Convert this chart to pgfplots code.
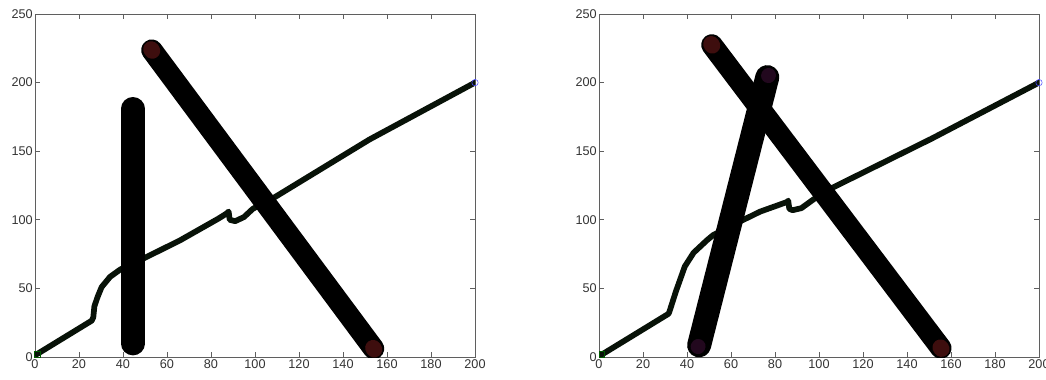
\documentclass[border=0pt]{standalone}
\usepackage{pgfplots}
\pgfplotsset{compat=1.18}
\usepackage{fontspec}
\setmainfont{Liberation Sans}
\definecolor{axgray}{RGB}{95,95,95}
\definecolor{linecol}{RGB}{8,18,8}
\definecolor{capred}{RGB}{62,14,14}
\definecolor{cappurple}{RGB}{34,8,30}
\pgfplotsset{
  mlab/.style={
    scale only axis, width=330pt, height=257.25pt,
    xmin=0, xmax=200, ymin=0, ymax=250,
    xtick={0,20,...,200}, ytick={0,50,...,250},
    tick align=inside, major tick length=4pt,
    axis line style={axgray, line width=0.6pt},
    tick style={axgray, line width=0.6pt},
    ticklabel style={font=\fontsize{9.5}{11}\selectfont, text=black!80, inner sep=1.5pt},
    /pgf/number format/assume math mode=true,
    anchor=south west,
  }
}
\begin{document}
\begin{tikzpicture}
\path[use as bounding box] (-26.25pt,-16.5pt) rectangle (758.25pt,267.75pt);
% left axis
\begin{axis}[mlab, at={(0pt,0pt)}]
\addplot[linecol, line width=4.3pt, line join=round, line cap=round] coordinates {
(0.8,2) (25.8,26.5) (26.5,29) (27,37) (28.5,44) (30.3,51) (34.1,58.4) (38.6,63.6)
(42,66.5) (49.2,71.7) (65.9,85) (83.3,100.8) (87,104.5) (88,106) (88.5,100)
(91,99) (95,102) (99,108) (109,116.5) (152,158.5) (200,200)};
\addplot[only marks, mark=square, mark size=2pt, green!35!black] coordinates {(1,2)};
\addplot[only marks, mark=o, mark size=2.4pt, blue!70!white] coordinates {(200,200)};
\addplot[black, line width=17.5pt, line cap=round] coordinates {(44.5,9.7) (44.5,181)};
\addplot[black, line width=16pt, line cap=round] coordinates {(53.1,223.7) (153.9,6.1)};
\addplot[capred, line width=12pt, line cap=round] coordinates {(52.8,224.3) (53.3,223.2)};
\addplot[capred, line width=12pt, line cap=round] coordinates {(154.2,5.5) (153.7,6.6)};
\end{axis}
% right axis
\begin{axis}[mlab, at={(423pt,0pt)}]
\addplot[linecol, line width=4.3pt, line join=round, line cap=round] coordinates {
(1.2,1.7) (31.6,31.5) (32,33) (33,38) (35,48) (37,57) (39,66) (43,76) (49,85)
(52,89) (57,93) (65,99.5) (73.3,106) (85.5,113) (86,114) (86.5,108) (88,107)
(92,108.5) (97.6,115) (105,122.5) (151,159) (200,200)};
\addplot[only marks, mark=square, mark size=2pt, green!35!black] coordinates {(1.2,2)};
\addplot[only marks, mark=o, mark size=2.4pt, blue!70!white] coordinates {(200,200)};
\addplot[black, line width=18pt, line cap=round] coordinates {(45.5,8.5) (76.5,204)};
\addplot[cappurple, line width=11pt, line cap=round] coordinates {(77,205) (77.1,205.3)};
\addplot[cappurple, line width=11pt, line cap=round] coordinates {(45,7.5) (45.1,7.8)};
\addplot[black, line width=16pt, line cap=round] coordinates {(51.3,227.5) (155.4,6.5)};
\addplot[capred, line width=12pt, line cap=round] coordinates {(51,228.1) (51.5,227)};
\addplot[capred, line width=12pt, line cap=round] coordinates {(155.7,5.9) (155.2,7)};
\end{axis}
\end{tikzpicture}
\end{document}
